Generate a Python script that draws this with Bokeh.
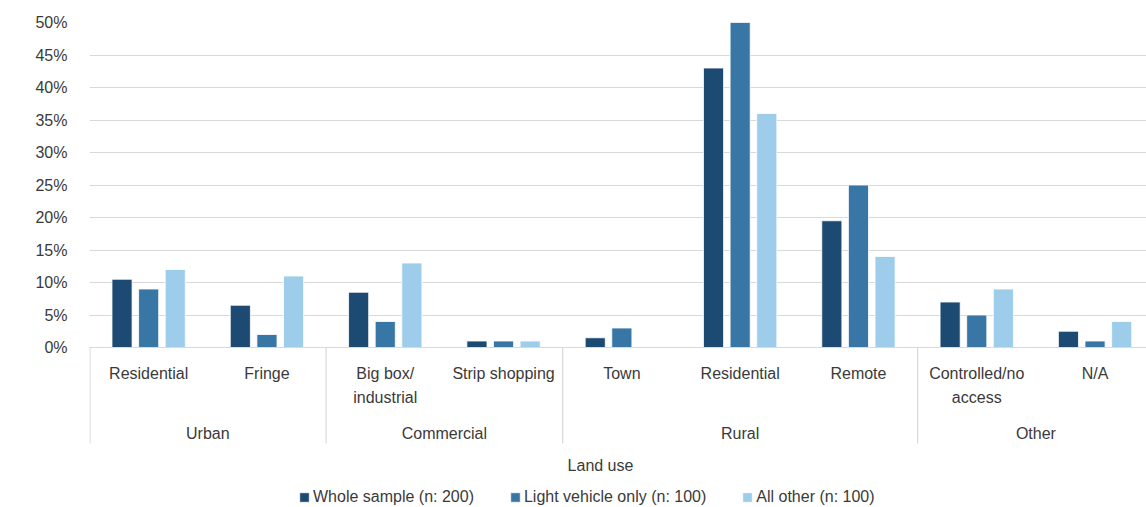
from bokeh.plotting import figure
from bokeh.models import (ColumnDataSource, FixedTicker, PrintfTickFormatter, Range1d,
                          Label, Legend, LegendItem)
from bokeh.core.properties import value
from bokeh.embed import file_html
from bokeh.resources import INLINE

# Land-use categories (sub-category, group)
subcategories = ["Residential", "Fringe", "Big box/\nindustrial", "Strip shopping",
                 "Town", "Residential", "Remote", "Controlled/no\naccess", "N/A"]
groups = ["Urban", "Commercial", "Rural", "Other"]
group_sizes = [2, 2, 3, 2]

# Proportion of crashes (%) by series
whole_sample = [10.5, 6.5, 8.5, 1.0, 1.5, 43.0, 19.5, 7.0, 2.5]
light_vehicle = [9.0, 2.0, 4.0, 1.0, 3.0, 50.0, 25.0, 5.0, 1.0]
all_other = [12.0, 11.0, 13.0, 1.0, 0.0, 36.0, 14.0, 9.0, 4.0]

series_names = ["Whole sample (n: 200)", "Light vehicle only (n: 100)", "All other (n: 100)"]
series_colors = ["#1d4a72", "#3877a5", "#9dcdea"]
y_ticks = [0, 5, 10, 15, 20, 25, 30, 35, 40, 45, 50]

FONT = "Liberation Sans"
TEXT_COLOR = "#3a3a3a"
GRID_COLOR = "#d9d9d9"

PX_PER_CAT = 118.3   # pixel width of one category slot
PX_PER_PCT = 6.5     # pixel height of one percentage point
W, H = 1146, 507
LEFT, TOP = 89, 22

x_start = -0.5
x_end = x_start + (W - LEFT) / PX_PER_CAT
y_end = 50.0
y_start = y_end - (H - TOP) / PX_PER_PCT


def px_to_x(px):
    return x_start + (px - LEFT) / PX_PER_CAT


p = figure(width=W, height=H, output_backend="svg", toolbar_location=None,
           x_range=Range1d(x_start, x_end), y_range=Range1d(y_start, y_end),
           x_axis_location=None, min_border_left=LEFT, min_border_right=0,
           min_border_top=TOP, min_border_bottom=0)
p.outline_line_color = None
p.background_fill_color = "white"
p.border_fill_color = "white"
p.xgrid.visible = False

# y axis
ax = p.yaxis[0]
ax.ticker = FixedTicker(ticks=y_ticks)
ax.formatter = PrintfTickFormatter(format="%d%%")
ax.axis_line_color = None
ax.major_tick_line_color = None
ax.minor_tick_line_color = None
ax.major_label_standoff = 16
ax.major_label_text_font = FONT
ax.major_label_text_font_size = "16px"
ax.major_label_text_color = TEXT_COLOR
p.ygrid.ticker = FixedTicker(ticks=y_ticks)
p.ygrid.grid_line_color = GRID_COLOR
p.ygrid.grid_line_width = 1.2

# bars
idx = list(range(len(subcategories)))
bar_w = 0.17
offsets = [-0.225, 0.0, 0.225]
items = []
for vals, name, col, off in zip([whole_sample, light_vehicle, all_other],
                                series_names, series_colors, offsets):
    src = ColumnDataSource(dict(x=[i + off for i in idx], top=vals))
    r = p.vbar(x="x", top="top", bottom=0, width=bar_w, source=src,
               fill_color=col, line_color="white", line_width=0.8)
    items.append(LegendItem(label=name, renderers=[r]))

# category axis: baseline, separators, labels
sep_bottom = -(443 - 347) / PX_PER_PCT
p.segment(x0=[x_start], y0=[0], x1=[x_end], y1=[0], line_color=GRID_COLOR, line_width=1.2)
bounds = [-0.5]
for n in group_sizes:
    bounds.append(bounds[-1] + n)
sep_x = [x_start + 0.5 / PX_PER_CAT] + bounds[1:-1]
p.segment(x0=sep_x, y0=[0] * len(sep_x), x1=sep_x, y1=[sep_bottom] * len(sep_x),
          line_color=GRID_COLOR, line_width=1.2)

p.text(x=idx, y=[-(364 - 347) / PX_PER_PCT] * len(idx), text=subcategories,
       text_font=value(FONT), text_font_size="16px", text_color=TEXT_COLOR,
       text_align="center", text_baseline="top", text_line_height=1.45)

group_centers = [(bounds[i] + bounds[i + 1]) / 2 for i in range(len(groups))]
p.text(x=group_centers, y=[-(433 - 347) / PX_PER_PCT] * len(groups), text=groups,
       text_font=value(FONT), text_font_size="16px", text_color=TEXT_COLOR,
       text_align="center", text_baseline="middle")

p.add_layout(Label(x=px_to_x(600), y=-(465 - 347) / PX_PER_PCT, text="Land use",
                   text_font=FONT, text_font_size="16px", text_color=TEXT_COLOR,
                   text_align="center", text_baseline="middle"))
p.add_layout(Label(x=px_to_x(17), y=25, text="Proportion of crashes",
                   angle=1.5707963, text_font=FONT, text_font_size="16px",
                   text_color=TEXT_COLOR, text_align="center", text_baseline="middle"))

legend = Legend(items=items, orientation="horizontal", location=(209, 1),
                label_text_font=FONT, label_text_font_size="16px",
                label_text_color=TEXT_COLOR, glyph_width=12, glyph_height=12,
                label_standoff=3, spacing=35, padding=0, margin=0,
                border_line_color=None, background_fill_alpha=0)
p.add_layout(legend)

open("out.html", "w").write(file_html(p, INLINE))
